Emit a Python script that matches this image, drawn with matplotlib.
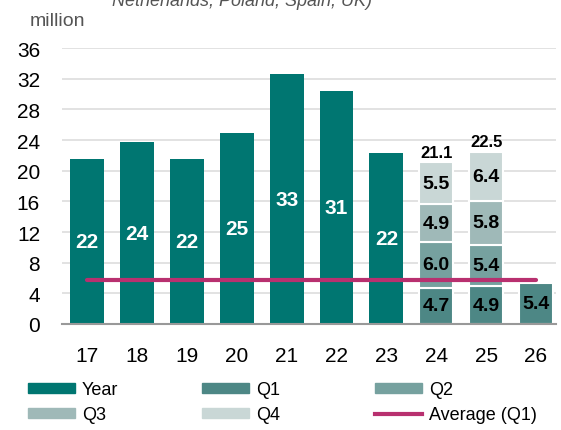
import matplotlib
matplotlib.use('Agg')
import matplotlib.pyplot as plt
import numpy as np
from matplotlib.lines import Line2D
from matplotlib.patches import Patch

plt.rcParams['font.family'] = ['Liberation Sans', 'DejaVu Sans']

# data
years = ['17', '18', '19', '20', '21', '22', '23', '24', '25', '26']
year_vals = [21.5, 23.7, 21.5, 24.9, 32.6, 30.4, 22.3]
year_labels = ['22', '24', '22', '25', '33', '31', '22']
q1 = [4.7, 4.9, 5.4]
q2 = [6.0, 5.4]
q3 = [4.9, 5.8]
q4 = [5.5, 6.4]
totals = ['21.1', '22.5']
avg_q1 = 5.7

c_year = '#007671'
c_q1 = '#4d8785'
c_q2 = '#76a19f'
c_q3 = '#9fb9b8'
c_q4 = '#c9d7d6'
c_avg = '#b8306f'

fig = plt.figure(figsize=(5.61, 4.31), dpi=100)
ax = fig.add_axes([0.111, 0.246, 0.88, 0.64])

x = np.arange(len(years))
w = 0.68

# full-year bars
xy = x[:len(year_vals)]
ax.bar(xy, year_vals, w, color=c_year, zorder=2)
for xi, v, lab in zip(xy, year_vals, year_labels):
    ax.text(xi, v / 2, lab, ha='center', va='center', color='white',
            fontsize=15, fontweight='bold', zorder=4)

# quarterly stacks
xq = x[7:]
bottoms = np.zeros(len(xq))
for vals, col in [(q1, c_q1), (q2, c_q2), (q3, c_q3), (q4, c_q4)]:
    n = len(vals)
    ax.bar(xq[:n], vals, w, bottom=bottoms[:n], color=col,
           edgecolor='white', linewidth=1.5, zorder=2)
    for xi, b, v in zip(xq[:n], bottoms[:n], vals):
        ax.text(xi, b + v / 2, f'{v:.1f}', ha='center', va='center',
                color='black', fontsize=14, fontweight='bold', zorder=4)
    bottoms[:n] += vals

for xi, b, t in zip(xq[:2], bottoms[:2], totals):
    ax.text(xi, b + 0.3, t, ha='center', va='bottom', color='black',
            fontsize=12, fontweight='bold', zorder=4)

# average line
ax.plot([x[0], x[-1]], [avg_q1, avg_q1], color=c_avg, linewidth=3,
        solid_capstyle='round', zorder=3)

ax.set_ylim(0, 36)
ax.set_yticks(range(0, 37, 4))
ax.set_xlim(-0.5, 9.4)
ax.set_xticks(x)
ax.set_xticklabels(years)
ax.tick_params(axis='both', length=0, labelsize=15, colors='black')
ax.tick_params(axis='x', pad=16)
ax.tick_params(axis='y', pad=16)
ax.grid(axis='y', color='#dddddd', linewidth=1.2, zorder=0)
for s in ['top', 'right', 'left']:
    ax.spines[s].set_visible(False)
ax.spines['bottom'].set_color('#999999')
ax.spines['bottom'].set_linewidth(1.5)

fig.text(0.053, 0.94, 'million', fontsize=14, color='#555555', ha='left')
fig.text(0.2, 0.985, 'Netherlands, Poland, Spain, UK)', fontsize=13,
         color='#555555', style='italic', ha='left')

# legend as three columns placed by hand
cols = [
    (0.045, [Patch(color=c_year, label='Year'), Patch(color=c_q3, label='Q3')]),
    (0.355, [Patch(color=c_q1, label='Q1'), Patch(color=c_q4, label='Q4')]),
    (0.664, [Patch(color=c_q2, label='Q2'),
             Line2D([], [], color=c_avg, linewidth=3, label='Average (Q1)')]),
]
for xpos, hs in cols:
    fig.legend(handles=hs, loc='lower left', bbox_to_anchor=(xpos - 0.015, -0.01),
               frameon=False, fontsize=13, handlelength=2.6, handleheight=0.45,
               labelspacing=0.45, handletextpad=0.4, borderaxespad=0.2)

fig.savefig('out.png', dpi=100)
